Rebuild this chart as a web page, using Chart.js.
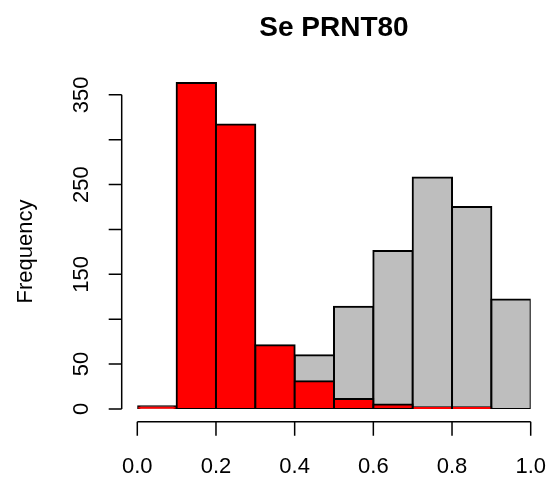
<!DOCTYPE html>
<html>
<head>
<meta charset="utf-8">
<script src="https://cdn.jsdelivr.net/npm/chart.js@4.4.1/dist/chart.umd.min.js"></script>
<style>
  html, body { margin: 0; padding: 0; background: #fff; }
  #wrap { width: 549px; height: 479px; }
</style>
</head>
<body>
<div id="wrap"><canvas id="hist"></canvas></div>
<script>
// bins of the histogram (0.1 wide)
var breaks = [0, 0.1, 0.2, 0.3, 0.4, 0.5, 0.6, 0.7, 0.8, 0.9, 1.0]
var grayCounts = [0, 0, 0, 0, 60, 114, 176, 258, 225, 122]
var redCounts = [3, 363, 317, 71, 31, 11, 5, 2, 2, 0]
var xTicks = [0, 0.2, 0.4, 0.6, 0.8, 1.0]
var xTickLabels = ['0.0', '0.2', '0.4', '0.6', '0.8', '1.0']
var yTicks = [0, 50, 100, 150, 200, 250, 300, 350]
var yTickLabels = ['0', '50', '', '150', '', '250', '', '350']

const fonte = '"Liberation Sans", Arial, Helvetica, sans-serif'
const canvasHist = document.getElementById('hist')

function pontos(contagens) {
    return contagens.map((c, i) => ({ x: (breaks[i] + breaks[i + 1]) / 2, y: c }))
}

// axes drawn the way base R does it (detached from the bars)
const eixosR = {
    id: 'eixosR',
    afterDraw(chart) {
        const ctx = chart.ctx
        const xs = chart.scales.x
        const ys = chart.scales.y
        const xLinha = 121.7
        const yLinha = 421.7
        const tam = 13

        ctx.save()
        ctx.strokeStyle = '#000'
        ctx.lineWidth = 1.5
        ctx.fillStyle = '#000'

        // x axis
        ctx.beginPath()
        ctx.moveTo(xs.getPixelForValue(xTicks[0]), yLinha)
        ctx.lineTo(xs.getPixelForValue(xTicks[xTicks.length - 1]), yLinha)
        xTicks.forEach(t => {
            const px = xs.getPixelForValue(t)
            ctx.moveTo(px, yLinha)
            ctx.lineTo(px, yLinha + tam + 1)
        })
        ctx.stroke()
        ctx.font = '22px ' + fonte
        ctx.textAlign = 'center'
        ctx.textBaseline = 'alphabetic'
        xTicks.forEach((t, i) => {
            ctx.fillText(xTickLabels[i], xs.getPixelForValue(t), 473)
        })

        // y axis
        ctx.beginPath()
        ctx.moveTo(xLinha, ys.getPixelForValue(yTicks[0]))
        ctx.lineTo(xLinha, ys.getPixelForValue(yTicks[yTicks.length - 1]))
        yTicks.forEach(t => {
            const py = ys.getPixelForValue(t)
            ctx.moveTo(xLinha, py)
            ctx.lineTo(xLinha - tam, py)
        })
        ctx.stroke()
        yTicks.forEach((t, i) => {
            if (!yTickLabels[i]) return
            ctx.save()
            ctx.translate(88, ys.getPixelForValue(t))
            ctx.rotate(-Math.PI / 2)
            ctx.textAlign = 'center'
            ctx.fillText(yTickLabels[i], 0, 0)
            ctx.restore()
        })

        // axis title
        ctx.save()
        ctx.translate(31.5, 251.5)
        ctx.rotate(-Math.PI / 2)
        ctx.textAlign = 'center'
        ctx.fillText('Frequency', 0, 0)
        ctx.restore()

        // main title
        ctx.font = 'bold 28px ' + fonte
        ctx.textAlign = 'center'
        ctx.fillText('Se PRNT80', (xs.left + xs.right) / 2, 35.5)
        ctx.restore()
    }
}

new Chart(canvasHist, {
    type: 'bar',
    data: {
        datasets: [{
            label: 'vermelho',
            data: pontos(redCounts),
            backgroundColor: '#FF0000',
            borderColor: '#000',
            order: 0
        }, {
            label: 'cinza',
            data: pontos(grayCounts),
            backgroundColor: '#BEBEBE',
            borderColor: '#000',
            order: 1
        }]
    },
    options: {
        responsive: true,
        maintainAspectRatio: false,
        animation: false,
        layout: {
            padding: { left: 137.3, right: 18.3, top: 70.1, bottom: 70 }
        },
        datasets: {
            bar: {
                grouped: false,
                barPercentage: 1,
                categoryPercentage: 1,
                borderWidth: 2,
                borderSkipped: false,
                inflateAmount: 1
            }
        },
        plugins: {
            legend: { display: false },
            tooltip: { enabled: false },
            title: { display: false }
        },
        scales: {
            x: {
                type: 'linear',
                min: 0,
                max: 1,
                offset: false,
                display: false
            },
            y: {
                type: 'linear',
                min: 0,
                max: 377.5,
                display: false
            }
        }
    },
    plugins: [eixosR]
})
</script>
</body>
</html>
